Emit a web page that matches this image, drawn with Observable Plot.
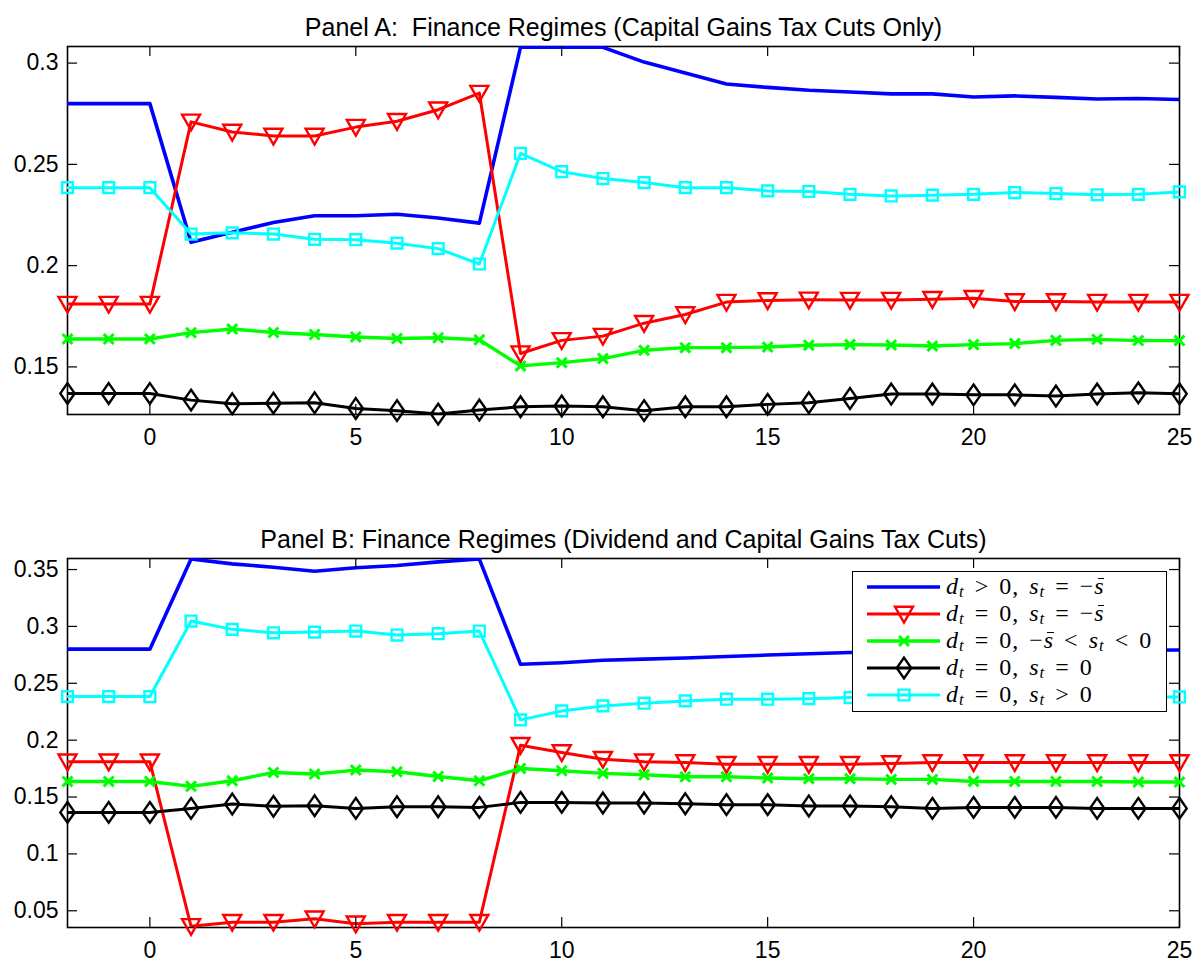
<!DOCTYPE html>
<html><head><meta charset="utf-8">
<script src="https://cdn.jsdelivr.net/npm/d3@7"></script>
<script src="https://cdn.jsdelivr.net/npm/@observablehq/plot@0.6"></script>
<style>
body{margin:0;background:#fff;}
#wrap{position:relative;width:1204px;height:962px;font-family:"Liberation Sans",Arial,sans-serif;}
#wrap svg{display:block;}
.legend{position:absolute;left:852px;top:571px;width:315px;height:141px;border:1.5px solid #000;background:#fff;box-sizing:border-box;}
.legend svg{position:absolute;left:0;top:0;}
.lg{position:absolute;left:93px;height:20px;font-family:"Liberation Serif","Times New Roman",serif;font-size:24px;line-height:20px;white-space:nowrap;color:#000;letter-spacing:1px;word-spacing:3px;}
.lg sub{font-size:70%;vertical-align:-0.2em;line-height:0;}
.lg .bar{position:relative;}
.lg .bar::after{content:"";position:absolute;left:0.14em;right:0.02em;top:0.22em;border-top:1.3px solid #000;}
</style></head><body><div id="wrap"></div><script>
const periods = [-2,-1,0,1,2,3,4,5,6,7,8,9,10,11,12,13,14,15,16,17,18,19,20,21,22,23,24,25];
const xTicks = [0,5,10,15,20,25];

const titleA = "Panel A:\u00a0 Finance Regimes (Capital Gains Tax Cuts Only)";
const titleB = "Panel B: Finance Regimes (Dividend and Capital Gains Tax Cuts)";

const yTicksA = [0.15,0.2,0.25,0.3];
const yTicksB = [0.05,0.1,0.15,0.2,0.25,0.3,0.35];

const seriesLabels = [
  '<i>d</i><sub><i>t</i></sub> &gt; 0, <i>s</i><sub><i>t</i></sub> = \u2212<i class="bar">s</i>',
  '<i>d</i><sub><i>t</i></sub> = 0, <i>s</i><sub><i>t</i></sub> = \u2212<i class="bar">s</i>',
  '<i>d</i><sub><i>t</i></sub> = 0, \u2212<i class="bar">s</i> &lt; <i>s</i><sub><i>t</i></sub> &lt; 0',
  '<i>d</i><sub><i>t</i></sub> = 0, <i>s</i><sub><i>t</i></sub> = 0',
  '<i>d</i><sub><i>t</i></sub> = 0, <i>s</i><sub><i>t</i></sub> &gt; 0'
];
const colors = ["#0000ff","#ff0000","#00ff00","#000000","#00ffff"];

// Panel A values (x = -2 .. 25)
const aBlue  = [0.280,0.280,0.280,0.2115,0.2165,0.2213,0.2246,0.2246,0.2254,0.2235,0.2210,0.3079,0.3079,0.3078,0.3005,0.2951,0.2897,0.2880,0.2866,0.2857,0.2848,0.2848,0.2833,0.2838,0.2831,0.2823,0.2825,0.2820];
const aRed   = [0.181,0.181,0.181,0.2710,0.2660,0.2640,0.2640,0.2684,0.2713,0.2770,0.2852,0.1566,0.1631,0.1652,0.1716,0.1759,0.1820,0.1828,0.1831,0.1830,0.1830,0.1834,0.1839,0.1823,0.1823,0.1820,0.1820,0.1820];
const aGreen = [0.1638,0.1638,0.1638,0.1669,0.1687,0.1670,0.1660,0.1648,0.1640,0.1644,0.1634,0.1505,0.1521,0.1541,0.1582,0.1595,0.1595,0.1598,0.1607,0.1610,0.1608,0.1603,0.1610,0.1615,0.1631,0.1636,0.1630,0.1630];
const aBlack = [0.1369,0.1369,0.1369,0.1336,0.1318,0.1321,0.1323,0.1295,0.1284,0.1267,0.1287,0.1303,0.1307,0.1303,0.1284,0.1303,0.1303,0.1315,0.1323,0.1344,0.1366,0.1366,0.1362,0.1362,0.1356,0.1366,0.1372,0.1367];
const aCyan  = [0.2385,0.2385,0.2385,0.2156,0.2162,0.2156,0.2130,0.2128,0.2111,0.2084,0.2008,0.2554,0.2464,0.2430,0.2410,0.2385,0.2385,0.2369,0.2366,0.2352,0.2344,0.2348,0.2352,0.2361,0.2356,0.2350,0.2352,0.2364];

// Panel B values (x = -2 .. 25)
const bBlue  = [0.280,0.280,0.280,0.3592,0.3550,0.3520,0.3485,0.3515,0.3535,0.3567,0.3592,0.2667,0.2681,0.2702,0.2712,0.2722,0.2735,0.2748,0.2760,0.2770,0.2775,0.2780,0.2783,0.2786,0.2788,0.2790,0.2791,0.2792];
const bRed   = [0.181,0.181,0.181,0.0363,0.0400,0.0400,0.0430,0.0386,0.0400,0.0400,0.0400,0.1956,0.1892,0.1833,0.1810,0.1804,0.1789,0.1789,0.1789,0.1789,0.1795,0.1804,0.1804,0.1804,0.1804,0.1804,0.1804,0.1804];
const bGreen = [0.1637,0.1637,0.1637,0.1594,0.1643,0.1716,0.1702,0.1737,0.1722,0.1681,0.1643,0.1751,0.1731,0.1708,0.1696,0.1678,0.1678,0.1667,0.1661,0.1661,0.1655,0.1655,0.1637,0.1637,0.1637,0.1637,0.1632,0.1632];
const bBlack = [0.1365,0.1365,0.1365,0.1400,0.1439,0.1418,0.1424,0.1400,0.1415,0.1415,0.1409,0.1453,0.1453,0.1447,0.1447,0.1441,0.1433,0.1433,0.1421,0.1421,0.1415,0.1400,0.1409,0.1409,0.1409,0.1400,0.1400,0.1400];
const bCyan  = [0.2383,0.2383,0.2383,0.3047,0.2974,0.2944,0.2950,0.2959,0.2924,0.2936,0.2959,0.2178,0.2257,0.2301,0.2325,0.2345,0.2360,0.2360,0.2365,0.2374,0.2376,0.2377,0.2378,0.2378,0.2379,0.2379,0.2380,0.2380];

// marker shapes (MATLAB-like)
const triDown = {draw(c, size){const s=Math.sqrt(size/Math.PI); c.moveTo(-s,-0.8*s); c.lineTo(s,-0.8*s); c.lineTo(0,0.95*s); c.closePath();}};
const timesSym = {draw(c, size){const s=Math.sqrt(size/Math.PI)*0.55; c.moveTo(-s,-s); c.lineTo(s,s); c.moveTo(-s,s); c.lineTo(s,-s);}};
const diamondSym = {draw(c, size){const s=Math.sqrt(size/Math.PI); c.moveTo(0,-1.15*s); c.lineTo(0.8*s,0); c.lineTo(0,1.15*s); c.lineTo(-0.8*s,0); c.closePath();}};
const squareSym = {draw(c, size){const s=Math.sqrt(size/Math.PI)*0.6; c.moveTo(-s,-s); c.lineTo(s,-s); c.lineTo(s,s); c.lineTo(-s,s); c.closePath();}};
const symbols = [null, triDown, timesSym, diamondSym, squareSym];
const lineWidths = [3.6, 3.0, 3.4, 3.0, 3.0];
const markerWidths = [0, 2.4, 3.0, 2.4, 2.4];
const R = 9;

const W = 1204, ML = 67, MR = 25;

function panel(title, values, yDomain, yTicks, height, marginTop, marginBottom) {
  const plotH = height - marginTop - marginBottom;
  const plotW = W - ML - MR;
  const marks = [Plot.frame({stroke: "black", strokeWidth: 1.6})];
  values.forEach((vals, k) => {
    const data = periods.map((x, i) => ({x, y: vals[i]}));
    marks.push(Plot.line(data, {x: "x", y: "y", stroke: colors[k], strokeWidth: lineWidths[k], clip: true}));
    if (symbols[k]) marks.push(Plot.dot(data, {x: "x", y: "y", symbol: symbols[k], r: R, stroke: colors[k], strokeWidth: markerWidths[k], fill: "none"}));
  });
  marks.push(
    Plot.tickX(xTicks, {x: d => d, insetTop: plotH - 10, stroke: "black", strokeWidth: 1.2}),
    Plot.tickX(xTicks, {x: d => d, insetBottom: plotH - 10, stroke: "black", strokeWidth: 1.2}),
    Plot.tickY(yTicks, {y: d => d, insetRight: plotW - 10, stroke: "black", strokeWidth: 1.2}),
    Plot.tickY(yTicks, {y: d => d, insetLeft: plotW - 10, stroke: "black", strokeWidth: 1.2}),
    Plot.axisX(xTicks, {tickSize: 0, tickPadding: 14, fontSize: 23, tickFormat: d => String(d), label: null}),
    Plot.axisY(yTicks, {tickSize: 0, tickPadding: 9, fontSize: 23, tickFormat: d => String(d), label: null}),
    Plot.text([title], {text: d => d, frameAnchor: "top", dy: -28, fontSize: 25, fill: "black"})
  );
  return Plot.plot({
    width: W, height, marginLeft: ML, marginRight: MR, marginTop, marginBottom,
    x: {domain: [-2, 25], label: null},
    y: {domain: yDomain, label: null},
    style: {fontFamily: "Liberation Sans, Arial, sans-serif", fontSize: "23px", background: "white", color: "black", overflow: "visible"},
    marks
  });
}

const wrap = document.getElementById("wrap");
wrap.appendChild(panel(titleA, [aBlue, aRed, aGreen, aBlack, aCyan], [0.1265, 0.3082], yTicksA, 512, 46, 98));
wrap.appendChild(panel(titleB, [bBlue, bRed, bGreen, bBlack, bCyan], [0.0353, 0.3597], yTicksB, 450, 46, 35));

// legend (panel B)
const leg = document.createElement("div");
leg.className = "legend";
wrap.appendChild(leg);
const rowY = [15, 42, 69, 96, 123];
const lsvg = d3.select(leg).append("svg").attr("width", 312).attr("height", 138);
seriesLabels.forEach((lab, k) => {
  const y = rowY[k];
  lsvg.append("line").attr("x1", 14).attr("x2", 87).attr("y1", y).attr("y2", y)
    .attr("stroke", colors[k]).attr("stroke-width", lineWidths[k]);
  if (symbols[k]) {
    lsvg.append("path").attr("transform", `translate(51,${y})`)
      .attr("d", d3.symbol(symbols[k], R * R * Math.PI)())
      .attr("fill", "none").attr("stroke", colors[k]).attr("stroke-width", markerWidths[k]);
  }
  const t = document.createElement("div");
  t.className = "lg";
  t.style.top = (y - 11) + "px";
  t.innerHTML = lab;
  leg.appendChild(t);
});
</script></body></html>
